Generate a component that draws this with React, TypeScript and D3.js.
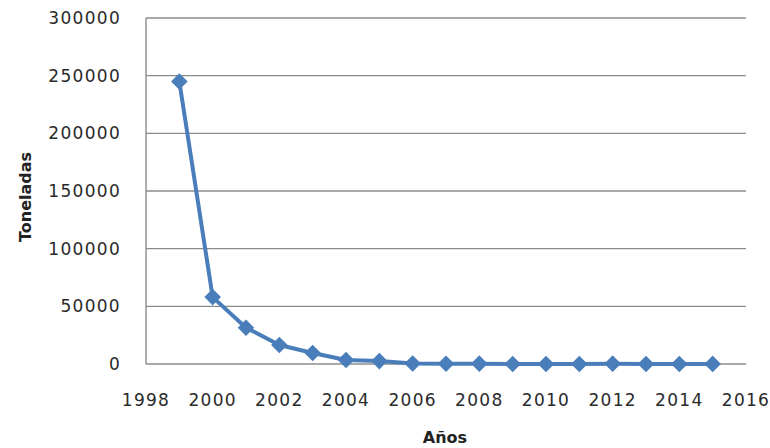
import React from "react";
import * as d3 from "d3";

const years = [1999, 2000, 2001, 2002, 2003, 2004, 2005, 2006, 2007, 2008, 2009, 2010, 2011, 2012, 2013, 2014, 2015];
const toneladas = [245000, 58000, 31500, 16500, 9500, 3500, 2500, 500, 200, 300, 0, 0, 0, 300, 0, 0, 100];
const yTicks = [0, 50000, 100000, 150000, 200000, 250000, 300000];
const xTicks = [1998, 2000, 2002, 2004, 2006, 2008, 2010, 2012, 2014, 2016];
const xTitle = "Años";
const yTitle = "Toneladas";

export default function App() {
  const W = 770, H = 448;
  const left = 146, right = 746, top = 18, bottom = 364;
  const x = d3.scaleLinear().domain([1998, 2016]).range([left, right]);
  const y = d3.scaleLinear().domain([0, 300000]).range([bottom, top]);
  const pts = years.map((yr, i) => [x(yr), y(toneladas[i])] as [number, number]);
  const line = d3.line()(pts) || "";
  const diamond = d3.symbol().type(d3.symbolDiamond2).size(175)() || "";
  const font = "'DejaVu Sans', Verdana, sans-serif";
  return (
    <svg width={W} height={H} style={{ position: "absolute", left: 0, top: 0, background: "#fff" }}>
      {yTicks.map((t) => (
        <line key={"g" + t} x1={left} x2={right} y1={y(t)} y2={y(t)} stroke="#8c8c8c" strokeWidth={1.4} />
      ))}
      <line x1={left} x2={left} y1={top} y2={bottom} stroke="#8c8c8c" strokeWidth={1.4} />
      {yTicks.map((t) => (
        <text key={"yl" + t} x={121} y={y(t) + 6} textAnchor="end" fontFamily={font} fontSize={17} letterSpacing={1.3} fill="#2a2a2a">
          {t}
        </text>
      ))}
      {xTicks.map((t) => (
        <text key={"xl" + t} x={x(t)} y={406} textAnchor="middle" fontFamily={font} fontSize={17} letterSpacing={1.3} fill="#2a2a2a">
          {t}
        </text>
      ))}
      <text x={445} y={443} textAnchor="middle" fontFamily={font} fontSize={16} fontWeight="bold" fill="#222">
        {xTitle}
      </text>
      <text transform={`translate(31,197) rotate(-90)`} textAnchor="middle" fontFamily={font} fontSize={16} fontWeight="bold" fill="#222">
        {yTitle}
      </text>
      <path d={line} fill="none" stroke="#4a7ebb" strokeWidth={4} strokeLinejoin="round" />
      {pts.map((p, i) => (
        <path key={"m" + i} d={diamond} transform={`translate(${p[0]},${p[1]})`} fill="#4a7ebb" />
      ))}
    </svg>
  );
}
